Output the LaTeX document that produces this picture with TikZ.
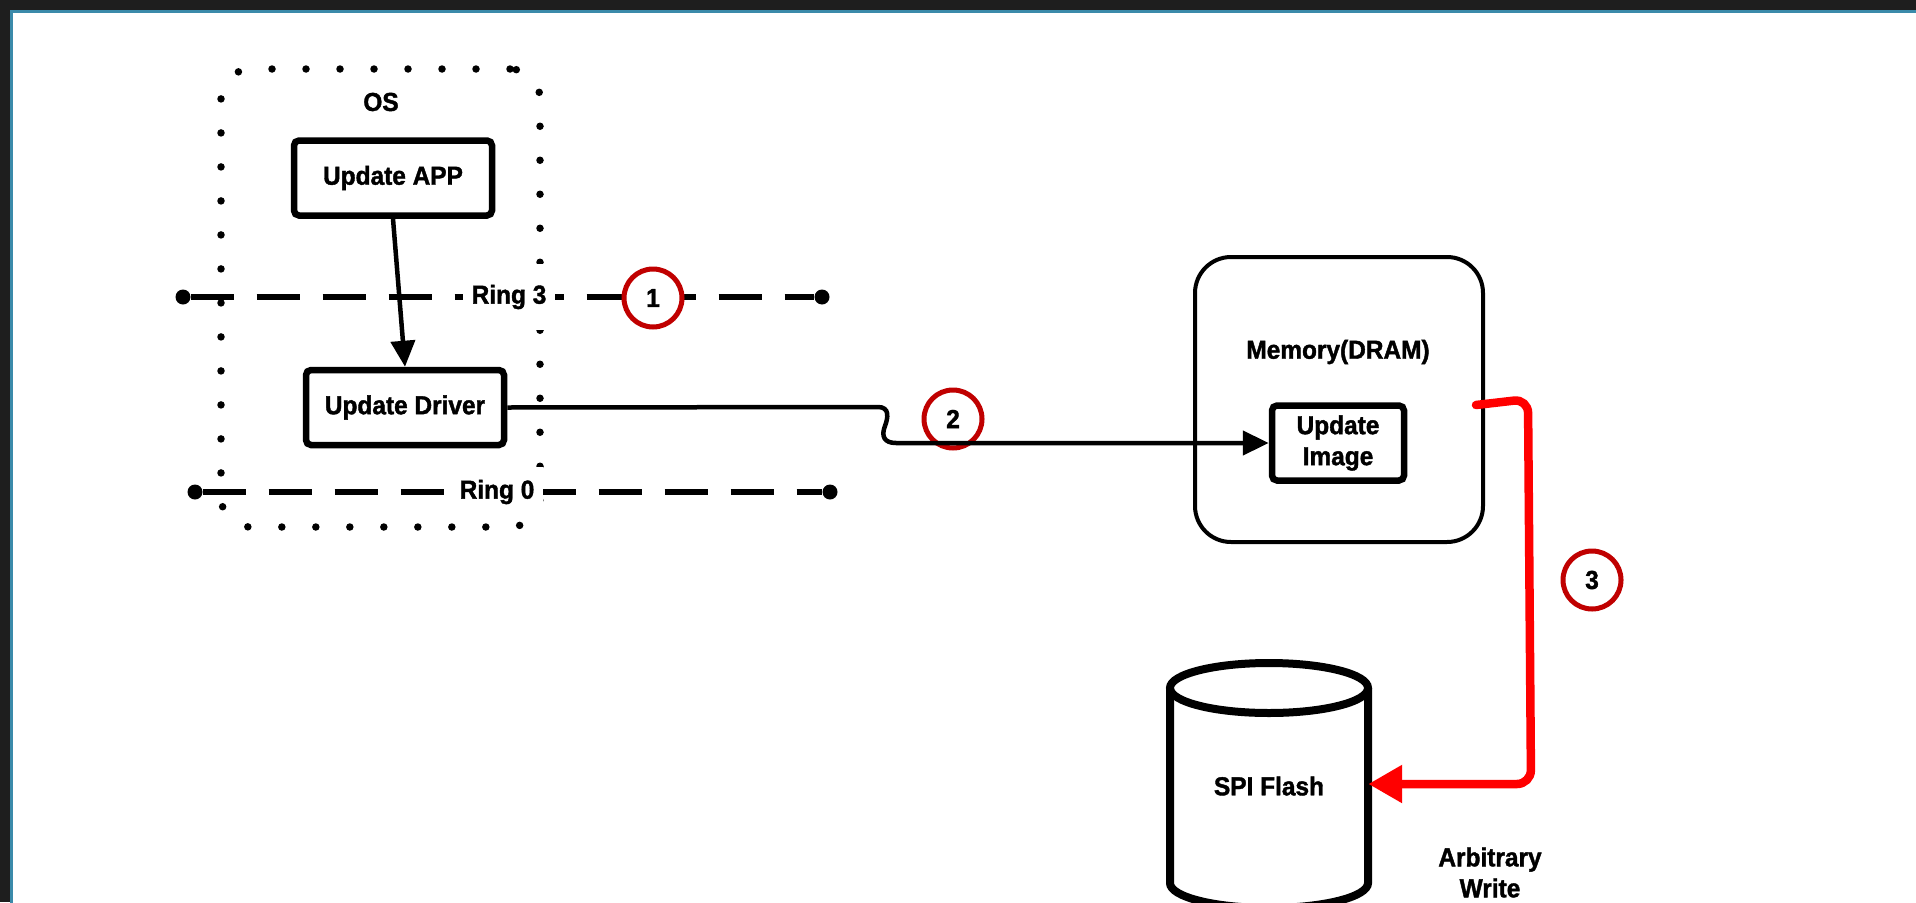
\documentclass[tikz,border=0pt]{standalone}
\usepackage{fontspec}
\setmainfont{Liberation Sans}[FakeStretch=0.94, BoldFeatures={FakeBold=1.5}]
\usetikzlibrary{arrows.meta}
\definecolor{frame}{HTML}{1E1E1E}
\definecolor{edge}{HTML}{3B8AAA}
\definecolor{mark}{HTML}{C00000}
\definecolor{hot}{HTML}{FF0000}
\tikzset{
  lbl/.style={font=\fontsize{26}{31}\selectfont\bfseries, text=black, inner sep=2pt},
  box/.style={lbl, draw=black, line width=6.5pt, rounded corners=5pt, fill=white,
    minimum width=198pt, minimum height=75pt},
  osbox/.style={draw=black, line width=7.5pt, line cap=round,
    dash pattern=on 0pt off 34pt, rounded corners=30pt,
    minimum width=319pt, minimum height=458pt, inner sep=0pt},
  membox/.style={draw=black, line width=4pt, rounded corners=36pt,
    minimum width=288pt, minimum height=285pt, inner sep=0pt},
  ringline/.style={draw=black, line width=5.5pt, dash pattern=on 43pt off 23pt},
  ringend/.style={circle, fill=black, minimum size=15pt, inner sep=0pt},
  ringlbl/.style={lbl, fill=white, inner xsep=9pt},
  num/.style={lbl, circle, draw=mark, line width=5pt, fill=white,
    minimum size=58pt, inner sep=0pt},
  conn/.style={draw=black, line width=4.5pt, -{Triangle[length=26pt,width=24pt]}},
  hotline/.style={draw=hot, line width=8.5pt, line cap=round,
    -{Triangle[length=34pt,width=36pt]}},
  cyl/.style={draw=black, line width=8pt}
}
\begin{document}
\begin{tikzpicture}[x=1pt,y=-1pt]
\useasboundingbox (0,0) rectangle (1916,902);
% dark surround and the white sheet with its teal rim
\fill[frame] (0,0) rectangle (1916,902);
\begin{scope}
  \clip (0,0) rectangle (1916,902);
  \draw[edge, line width=3pt, fill=white] (11.5,11.5) rectangle (1940,930);
\end{scope}

% OS region
\node[osbox] (os) at (380.5,298) {};
\node[lbl] (ostitle) at (381,102) {OS};

% privilege ring boundaries
\node[ringend] (r3a) at (183,297) {};
\node[ringend] (r3b) at (822,297) {};
\draw[ringline] (r3a) -- (r3b);
\node[ringlbl, minimum height=66pt] (r3) at (509,297) {Ring 3};
\node[num] (n1) at (653,298) {1};

\node[ringend] (r0a) at (195,492) {};
\node[ringend] (r0b) at (830,492) {};
\draw[ringline] (r0a) -- (r0b);
\node[ringlbl, minimum height=50pt] (r0) at (497,492) {Ring 0};

% software components
\node[box] (app) at (393,178) {Update APP};
\node[box] (drv) at (405,407.5) {Update Driver};
\draw[conn] (app.south) -- (drv.north);

% memory
\node[membox] (mem) at (1339,399.5) {};
\node[lbl] (memt) at (1338,352) {Memory(DRAM)};
\node[box, minimum width=132pt, align=center] (img) at (1338,443) {Update\\Image};

% step 2: driver stages the image in DRAM
\node[num] (n2) at (953,419) {2};
\draw[conn] (drv.east) -- (878,407)
  .. controls (890,407) and (888,418) .. (885,426)
  .. controls (881,436) and (884,443) .. (896,443) -- (img.west);

% SPI flash cylinder
\draw[cyl, fill=white] (1170,688) -- (1170,883)
  arc[start angle=180, end angle=0, x radius=99, y radius=25] -- (1368,688);
\draw[cyl] (1269,688) ellipse[x radius=99, y radius=25];
\node[minimum width=198pt, minimum height=196pt, inner sep=0pt] (spi) at (1269,784) {};
\node[lbl] (spit) at (1269,786) {SPI Flash};

% step 3: arbitrary write into flash
\coordinate (wr) at (1476,405);
\draw[hotline, rounded corners=14pt] (wr) -- (1528,399) -- (1531,784) -- (spi.east);
\node[num] (n3) at (1592,580) {3};
\node[lbl, align=center] (aw) at (1490,872.5) {Arbitrary\\Write};
\end{tikzpicture}
\end{document}
